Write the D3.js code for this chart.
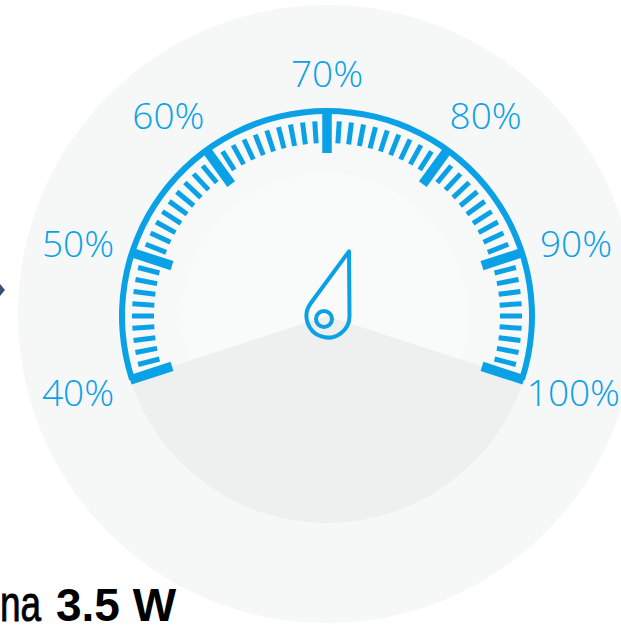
<!DOCTYPE html>
<html>
<head>
<meta charset="utf-8">
<script src="https://cdn.jsdelivr.net/npm/d3@7/dist/d3.min.js"></script>
<style>
  html, body { margin: 0; padding: 0; background: #ffffff; }
  svg { display: block; }
</style>
</head>
<body>
<svg id="chart" width="621" height="627"></svg>
<script>
// ---- data ----
const gaugeMin = 40;
const gaugeMax = 100;
const majorTicks = [40, 50, 60, 70, 80, 90, 100];
const tickLabels = ["40%", "50%", "60%", "70%", "80%", "90%", "100%"];
const minorTicks = d3.range(41, 100).filter(v => v % 10 !== 0);
const needleValue = 75;
const captionNormal = "na";
const captionBold = "3.5 W";

// ---- layout ----
const W = 621, H = 627;
const cx = 327, cy = 316;
const blue = "#0ba1e6";

const svg = d3.select("#chart");

// angle scale: degrees from 12 o'clock, clockwise
const angle = d3.scaleLinear().domain([gaugeMin, gaugeMax]).range([-108, 108]);
const rad = d => d * Math.PI / 180;
const polar = (deg, r) => [cx + r * Math.sin(rad(deg)), cy - r * Math.cos(rad(deg))];

// backgrounds
svg.append("circle").attr("cx", cx).attr("cy", cy - 2).attr("r", 309).attr("fill", "#f6f7f7");
svg.append("circle").attr("cx", cx).attr("cy", cy).attr("r", 208).attr("fill", "#f7f8f8");
svg.append("circle").attr("cx", cx - 2).attr("cy", cy).attr("r", 143).attr("fill", "#f9fafa");

const g = svg.append("g").attr("transform", `translate(${cx},${cy})`);

// grey lower sector (the part not covered by the scale)
g.append("path")
  .attr("d", d3.arc()({innerRadius: 0, outerRadius: 207,
    startAngle: rad(angle(gaugeMax)), endAngle: rad(360 + angle(gaugeMin))}))
  .attr("fill", "#eef0f0");

// outer scale arc
g.append("path")
  .attr("d", d3.arc()({innerRadius: 202, outerRadius: 208,
    startAngle: rad(angle(gaugeMin)), endAngle: rad(angle(gaugeMax))}))
  .attr("fill", blue);

// minor ticks
svg.append("g").selectAll("line").data(minorTicks).join("line")
  .attr("x1", d => polar(angle(d), 173)[0])
  .attr("y1", d => polar(angle(d), 173)[1])
  .attr("x2", d => polar(angle(d), 195)[0])
  .attr("y2", d => polar(angle(d), 195)[1])
  .attr("stroke", blue).attr("stroke-width", 5);

// major ticks
svg.append("g").selectAll("line").data(majorTicks).join("line")
  .attr("x1", d => polar(angle(d), 163)[0])
  .attr("y1", d => polar(angle(d), 163)[1])
  .attr("x2", d => polar(angle(d), 207)[0])
  .attr("y2", d => polar(angle(d), 207)[1])
  .attr("stroke", blue).attr("stroke-width", 9.5);

// labels around the dial
const labelCy = cy + 2;
const labelAngle = d => { const t = angle(d); return t + 2.2 * Math.sin(rad(2 * t)); };
const labelR = d => 260 - 15.5 * Math.pow(Math.max(0, Math.cos(rad(angle(d)))), 8);
const labels = svg.append("g").selectAll("text").data(majorTicks).join("text")
  .attr("x", d => cx + labelR(d) * Math.sin(rad(labelAngle(d))))
  .attr("y", d => labelCy - labelR(d) * Math.cos(rad(labelAngle(d))))
  .attr("dy", "0.36em")
  .attr("text-anchor", "middle")
  .attr("font-family", "'Open Sans', sans-serif")
  .attr("font-weight", 350)
  .attr("font-size", 37)
  .attr("fill", blue)
  .text((d, i) => tickLabels[i]);
// keep labels inside the picture
labels.each(function () {
  const w = this.getComputedTextLength();
  const x = +this.getAttribute("x");
  if (x + w / 2 > W - 1) this.setAttribute("x", W - 1 - w / 2);
  if (x - w / 2 < 1) this.setAttribute("x", 1 + w / 2);
});

// needle (teardrop)
(function () {
  const phi = rad(angle(needleValue));
  const bx = cx + 1, by = cy;
  const r = 21.5, dist = 68;
  const ux = Math.sin(phi), uy = -Math.cos(phi);
  const tx = bx + dist * ux, ty = by + dist * uy;
  const a = Math.acos(r / dist);
  const rot = (x, y, t) => [x * Math.cos(t) - y * Math.sin(t), x * Math.sin(t) + y * Math.cos(t)];
  const p1 = rot(ux, uy, a), p2 = rot(ux, uy, -a);
  const path = `M${tx},${ty} L${bx + r * p1[0]},${by + r * p1[1]} A${r},${r} 0 1 1 ${bx + r * p2[0]},${by + r * p2[1]} Z`;
  svg.append("path").attr("d", path).attr("fill", "none")
    .attr("stroke", blue).attr("stroke-width", 4).attr("stroke-linejoin", "round");
  svg.append("circle").attr("cx", cx - 3).attr("cy", cy + 3).attr("r", 8)
    .attr("fill", "none").attr("stroke", blue).attr("stroke-width", 4);
})();

// small arrow tip at left edge
svg.append("path").attr("d", "M0,284 L5,290 L0,296 Z").attr("fill", "#3b4c77");

// caption
svg.append("text")
  .attr("transform", "translate(0,621) scale(0.74,1)")
  .attr("font-family", "'Liberation Sans', Arial, sans-serif")
  .attr("font-size", 50).attr("fill", "#000")
  .attr("stroke", "#000").attr("stroke-width", 0.9)
  .text(captionNormal);
svg.append("text")
  .attr("x", 56).attr("y", 621)
  .attr("font-family", "'Liberation Sans', Arial, sans-serif")
  .attr("font-weight", "bold")
  .attr("font-size", 46).attr("fill", "#000")
  .text(captionBold);
</script>
</body>
</html>
